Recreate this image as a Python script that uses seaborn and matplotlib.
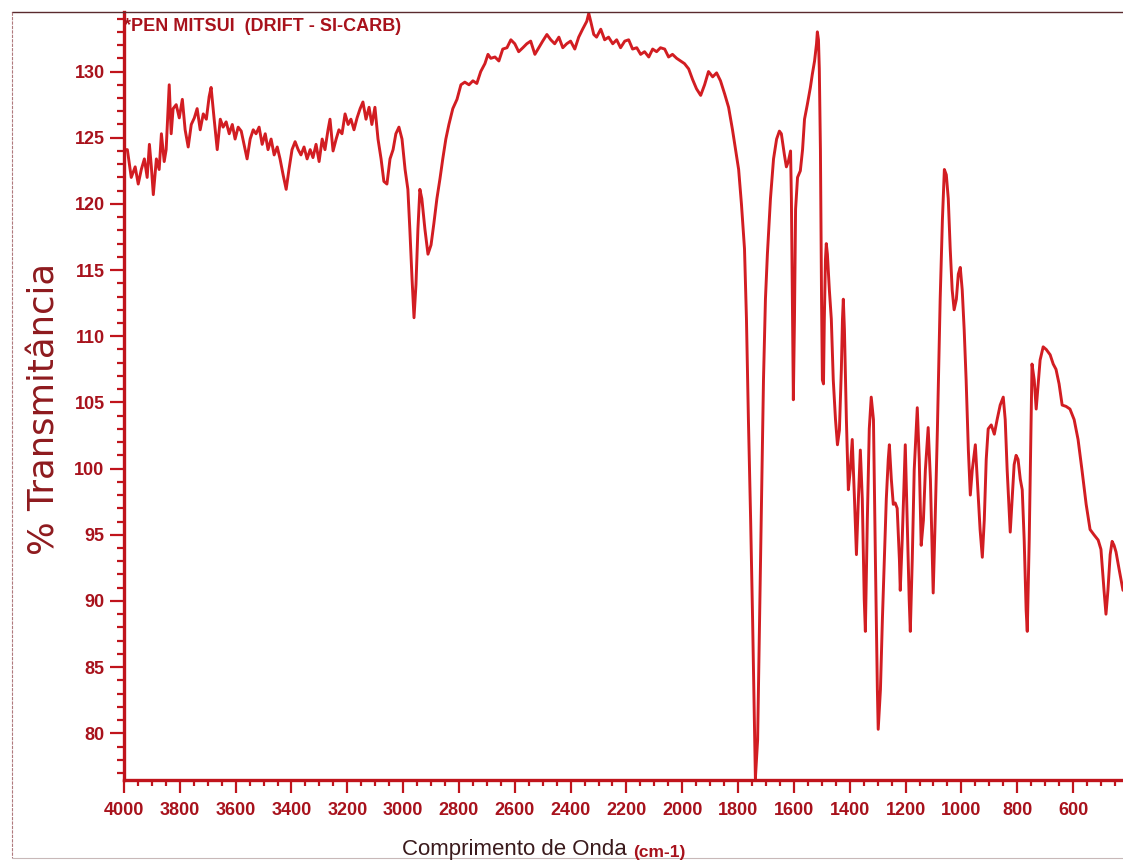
import matplotlib
matplotlib.use("Agg")
import matplotlib.pyplot as plt
from matplotlib.ticker import MultipleLocator, FixedLocator
from matplotlib.lines import Line2D
import seaborn as sns
import pandas as pd

# Wavenumber axis (cm-1) and % transmittance of the DRIFT spectrum
wavenumber = [
    4000, 3988, 3974, 3960, 3949, 3938, 3927, 3917, 3909, 3902, 3895, 3884, 3874, 3866, 3856, 3849,
    3838, 3831, 3824, 3813, 3802, 3791, 3781, 3770, 3759, 3748, 3738, 3727, 3716, 3705, 3695, 3688,
    3677, 3666, 3655, 3645, 3634, 3623, 3612, 3602, 3591, 3580, 3570, 3559, 3548, 3537, 3527, 3516,
    3505, 3494, 3484, 3473, 3462, 3451, 3441, 3430, 3419, 3409, 3398, 3387, 3376, 3366, 3355, 3344,
    3333, 3323, 3312, 3301, 3290, 3280, 3269, 3262, 3251, 3240, 3230, 3219, 3208, 3197, 3187, 3176,
    3165, 3154, 3144, 3133, 3122, 3112, 3101, 3090, 3079, 3069, 3058, 3047, 3036, 3026, 3015, 3004,
    2993, 2983, 2976, 2968, 2961, 2954, 2947, 2940, 2933, 2922, 2911, 2900, 2890, 2879, 2868, 2858,
    2847, 2836, 2822, 2807, 2793, 2779, 2764, 2750, 2736, 2722, 2707, 2696, 2686, 2671, 2657, 2643,
    2628, 2614, 2600, 2586, 2571, 2557, 2543, 2528, 2514, 2500, 2485, 2471, 2457, 2442, 2428, 2414,
    2400, 2385, 2371, 2357, 2342, 2335, 2328, 2317, 2307, 2292, 2278, 2264, 2249, 2235, 2221, 2206,
    2192, 2178, 2163, 2149, 2135, 2120, 2106, 2092, 2078, 2063, 2049, 2035, 2020, 2006, 1992, 1977,
    1963, 1949, 1934, 1920, 1906, 1891, 1877, 1863, 1848, 1834, 1820, 1809, 1798, 1788, 1777, 1770,
    1763, 1755, 1748, 1741, 1738, 1730, 1723, 1716, 1709, 1702, 1695, 1684, 1673, 1662, 1652, 1645,
    1634, 1627, 1620, 1612, 1609, 1605, 1602, 1598, 1594, 1587, 1577, 1569, 1562, 1552, 1541, 1534,
    1526, 1519, 1516, 1512, 1509, 1505, 1501, 1498, 1494, 1491, 1487, 1484, 1480, 1473, 1466, 1459,
    1451, 1444, 1437, 1430, 1426, 1423, 1419, 1412, 1405, 1398, 1391, 1383, 1376, 1369, 1362, 1355,
    1348, 1344, 1337, 1330, 1323, 1315, 1308, 1301, 1298, 1290, 1283, 1276, 1269, 1262, 1258, 1251,
    1244, 1237, 1230, 1222, 1219, 1212, 1204, 1201, 1194, 1187, 1183, 1176, 1169, 1158, 1151, 1144,
    1136, 1129, 1119, 1111, 1104, 1101, 1094, 1086, 1076, 1068, 1061, 1054, 1047, 1040, 1033, 1026,
    1018, 1011, 1004, 997, 990, 983, 975, 968, 961, 950, 943, 933, 925, 918, 911, 904,
    893, 882, 872, 861, 850, 843, 836, 825, 818, 811, 804, 797, 789, 782, 775, 768,
    764, 757, 750, 747, 739, 732, 725, 718, 707, 696, 682, 671, 661, 650, 639, 625,
    611, 596, 582, 568, 553, 539, 525, 510, 500, 489, 482, 475, 467, 460, 453, 446,
    435, 421,
]
transmittance = [
    124.1, 124.1, 122.0, 122.8, 121.5, 122.6, 123.4, 122.0, 124.5, 122.8, 120.7, 123.4, 122.6, 125.3, 123.2, 124.1,
    129.0, 125.3, 127.2, 127.5, 126.5, 127.9, 125.6, 124.3, 126.0, 126.5, 127.2, 125.6, 126.8, 126.4, 128.1, 128.8,
    126.4, 124.1, 126.4, 125.8, 126.2, 125.3, 126.0, 124.9, 125.8, 125.5, 124.5, 123.4, 124.9, 125.6, 125.3, 125.8,
    124.5, 125.3, 124.1, 124.9, 123.7, 124.3, 123.4, 122.2, 121.1, 122.6, 124.1, 124.7, 124.1, 123.7, 124.3, 123.4,
    124.1, 123.5, 124.5, 123.2, 124.9, 124.1, 125.6, 126.4, 124.0, 124.9, 125.6, 125.3, 126.8, 126.0, 126.4, 125.6,
    126.5, 127.2, 127.7, 126.4, 127.3, 126.0, 127.3, 124.9, 123.4, 121.7, 121.5, 123.4, 124.1, 125.3, 125.8, 124.9,
    122.6, 121.1, 118.1, 114.3, 111.4, 113.9, 118.1, 121.1, 120.4, 118.1, 116.2, 116.9, 118.5, 120.4, 121.9, 123.4,
    124.9, 126.0, 127.2, 127.9, 129.0, 129.2, 129.0, 129.3, 129.1, 130.0, 130.6, 131.3, 131.0, 131.1, 130.8, 131.7,
    131.8, 132.4, 132.1, 131.5, 131.8, 132.1, 132.3, 131.3, 131.8, 132.3, 132.8, 132.4, 132.1, 132.6, 131.8, 132.1,
    132.3, 131.7, 132.6, 133.2, 133.8, 134.4, 133.8, 132.8, 132.6, 133.2, 132.4, 132.6, 132.1, 132.4, 131.8, 132.3,
    132.4, 131.7, 131.8, 131.3, 131.5, 131.1, 131.7, 131.5, 131.8, 131.7, 131.1, 131.3, 131.0, 130.8, 130.6, 130.2,
    129.4, 128.7, 128.2, 129.0, 130.0, 129.6, 129.9, 129.3, 128.3, 127.3, 125.6, 124.1, 122.6, 120.0, 116.6, 111.3,
    103.7, 96.1, 88.6, 80.3, 76.6, 79.5, 88.6, 97.7, 106.7, 112.8, 116.2, 120.4, 123.4, 124.9, 125.5, 125.3,
    123.7, 122.8, 123.2, 124.0, 120.4, 111.3, 105.2, 111.3, 119.6, 122.0, 122.5, 124.1, 126.4, 127.5, 128.8, 129.8,
    130.8, 132.1, 133.0, 132.4, 130.2, 124.1, 112.8, 106.7, 106.4, 111.3, 115.8, 117.0, 116.2, 113.5, 111.3, 106.7,
    103.7, 101.8, 102.9, 107.5, 111.3, 112.8, 110.5, 103.7, 98.4, 99.9, 102.2, 97.7, 93.5, 97.7, 101.4, 97.7,
    90.1, 87.7, 96.1, 103.0, 105.4, 103.7, 93.1, 83.3, 80.3, 83.3, 88.6, 93.1, 97.7, 100.7, 101.8, 99.2,
    97.3, 97.4, 97.0, 93.1, 90.8, 94.6, 99.9, 101.8, 96.1, 90.1, 87.7, 93.1, 99.9, 104.6, 100.7, 94.2,
    96.1, 99.9, 103.1, 99.2, 93.1, 90.6, 96.1, 102.9, 112.8, 118.8, 122.6, 122.2, 120.4, 116.6, 113.5, 112.0,
    112.8, 114.7, 115.2, 113.5, 110.5, 106.7, 101.4, 98.0, 99.9, 101.8, 99.2, 95.4, 93.3, 96.1, 100.7, 103.0,
    103.3, 102.6, 103.7, 104.8, 105.4, 103.7, 99.9, 95.2, 97.7, 100.3, 101.0, 100.7, 99.2, 98.4, 94.6, 89.3,
    87.7, 94.6, 103.7, 107.9, 106.7, 104.5, 106.4, 108.2, 109.2, 109.0, 108.6, 107.9, 107.5, 106.4, 104.8, 104.7,
    104.5, 103.7, 102.2, 99.9, 97.3, 95.4, 95.0, 94.6, 93.9, 90.8, 89.0, 90.8, 93.5, 94.5, 94.2, 93.7,
    92.4, 90.8,
]

x_ticks = [4000, 3800, 3600, 3400, 3200, 3000, 2800, 2600, 2400, 2200, 2000,
           1800, 1600, 1400, 1200, 1000, 800, 600]
y_ticks = [80, 85, 90, 95, 100, 105, 110, 115, 120, 125, 130]

title_text = "*PEN MITSUI  (DRIFT - SI-CARB)"
y_label = "% Transmitância"
x_label = "Comprimento de Onda"
x_unit = "(cm-1)"

sns.set_theme(style="white")
plt.rcParams["font.family"] = ["DejaVu Sans"]

LINE_RED = "#d21d22"
AXIS_RED = "#c0141c"
LABEL_RED = "#a8121c"
PRINT_FONT = ["Liberation Sans", "DejaVu Sans"]

spectrum = pd.DataFrame({"wavenumber": wavenumber, "transmittance": transmittance})

W, H = 1123, 864
fig = plt.figure(figsize=(W / 100, H / 100), dpi=100)
fig.patch.set_facecolor("white")
ax = fig.add_axes([124 / W, 1 - 780 / H, 1 - 124 / W, (780 - 12) / H])
ax.set_facecolor("white")

sns.lineplot(data=spectrum, x="wavenumber", y="transmittance", sort=False,
             estimator=None, color=LINE_RED, linewidth=2.1, ax=ax)

ax.set_xlim(4000, 421)
ax.set_ylim(76.47, 134.5)
ax.set_xlabel("")
ax.set_ylabel("")

for side in ("top", "right"):
    ax.spines[side].set_visible(False)
for side in ("left", "bottom"):
    ax.spines[side].set_color(AXIS_RED)
    ax.spines[side].set_linewidth(2.4)

ax.xaxis.set_major_locator(FixedLocator(x_ticks))
ax.xaxis.set_minor_locator(MultipleLocator(50))
ax.yaxis.set_major_locator(FixedLocator(y_ticks))
ax.yaxis.set_minor_locator(MultipleLocator(1))
ax.set_xticklabels([str(v) for v in x_ticks])
ax.set_yticklabels([str(v) for v in y_ticks])

ax.tick_params(axis="both", which="both", direction="out", color=AXIS_RED,
               width=1.6, left=True, bottom=True)
ax.tick_params(axis="y", which="major", length=10, pad=4)
ax.tick_params(axis="y", which="minor", length=5)
ax.tick_params(axis="x", which="major", length=9, pad=7)
ax.tick_params(axis="x", which="minor", length=4)
for lab in ax.get_xticklabels() + ax.get_yticklabels():
    lab.set_family(PRINT_FONT)
    lab.set_fontweight("bold")
    lab.set_fontsize(13)
    lab.set_color(LABEL_RED)

ax.text(4000, 133.4, title_text, ha="left", va="center", family=PRINT_FONT,
        fontweight="bold", fontsize=13, color=LABEL_RED)

fig.text(45 / W, 1 - 409 / H, y_label, rotation=90, ha="center", va="center",
         fontsize=25.5, color="#8e1a1e")
fig.text(402 / W, 1 - 849 / H, x_label, ha="left", va="center",
         family=PRINT_FONT, fontsize=16, color="#3a1a1c")
fig.text(633 / W, 1 - 852 / H, x_unit, ha="left", va="center", family=PRINT_FONT,
         fontweight="bold", fontsize=12.5, color=LABEL_RED)

# page border around the printed spectrum
fig.add_artist(Line2D([12 / W, 1.0], [1 - 12 / H, 1 - 12 / H], transform=fig.transFigure,
                      color="#5a2a2e", linewidth=1.0))
fig.add_artist(Line2D([12 / W, 12 / W], [1 - 12 / H, 1 - 858 / H], transform=fig.transFigure,
                      color="#b07a7e", linewidth=0.8, linestyle=(0, (3, 1))))
fig.add_artist(Line2D([12 / W, 1.0], [1 - 858 / H, 1 - 858 / H], transform=fig.transFigure,
                      color="#c8b8b8", linewidth=0.8))

fig.savefig("out.png", dpi=100, facecolor="white")
